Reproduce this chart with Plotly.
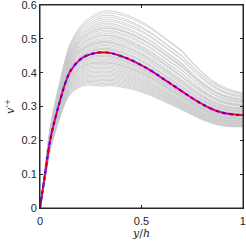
import numpy as np
import plotly.graph_objects as go

# wall-normal coordinate y/h
y_h = [0.0, 0.025, 0.05, 0.075, 0.1, 0.125, 0.15, 0.2, 0.25, 0.3, 0.35, 0.4,
       0.45, 0.5, 0.55, 0.6, 0.65, 0.7, 0.75, 0.8, 0.85, 0.9, 0.95, 1.0]
# mean profile v'+
v_mean = [0.0, 0.10, 0.20, 0.265, 0.32, 0.37, 0.405, 0.44, 0.455, 0.46, 0.458,
          0.449, 0.437, 0.422, 0.405, 0.385, 0.365, 0.345, 0.325, 0.307, 0.292,
          0.282, 0.277, 0.275]
# ensemble members (grey curves): value near the peak (y/h=0.3), at y/h=0.7 and at y/h=1
gray_peak = [0.580, 0.574, 0.568, 0.562, 0.556, 0.550, 0.545, 0.540, 0.535, 0.530,
             0.525, 0.520, 0.515, 0.510, 0.505, 0.500, 0.496, 0.492, 0.488, 0.484,
             0.480, 0.476, 0.472, 0.468, 0.464, 0.456, 0.452, 0.448, 0.444, 0.440,
             0.436, 0.432, 0.428, 0.424, 0.420, 0.416, 0.412, 0.408, 0.404, 0.400,
             0.396, 0.392, 0.388, 0.384, 0.380, 0.376, 0.372, 0.368, 0.364, 0.360,
             0.470, 0.490, 0.450, 0.430, 0.510, 0.530]
gray_mid = [0.465, 0.462, 0.450, 0.448, 0.440, 0.438, 0.428, 0.425, 0.418, 0.415,
            0.408, 0.406, 0.398, 0.396, 0.388, 0.386, 0.380, 0.376, 0.374, 0.368,
            0.366, 0.360, 0.357, 0.354, 0.350, 0.342, 0.340, 0.337, 0.335, 0.332,
            0.330, 0.327, 0.326, 0.322, 0.322, 0.318, 0.316, 0.314, 0.312, 0.310,
            0.308, 0.306, 0.304, 0.302, 0.300, 0.298, 0.296, 0.294, 0.292, 0.290,
            0.360, 0.372, 0.336, 0.330, 0.390, 0.420]
gray_end = [0.340, 0.335, 0.338, 0.330, 0.326, 0.330, 0.322, 0.318, 0.320, 0.314,
            0.310, 0.312, 0.306, 0.303, 0.300, 0.302, 0.296, 0.295, 0.292, 0.290,
            0.287, 0.286, 0.283, 0.280, 0.278, 0.272, 0.272, 0.268, 0.270, 0.266,
            0.264, 0.265, 0.262, 0.260, 0.262, 0.258, 0.256, 0.257, 0.254, 0.252,
            0.253, 0.250, 0.248, 0.249, 0.246, 0.245, 0.243, 0.242, 0.241, 0.240,
            0.285, 0.293, 0.270, 0.263, 0.305, 0.318]

x_ticks = [0, 0.5, 1]
y_ticks = [0, 0.1, 0.2, 0.3, 0.4, 0.5, 0.6]

fig = go.Figure()
xa = np.array(y_h)
va = np.array(v_mean)
m_peak = float(np.interp(0.3, xa, va))
m_mid = float(np.interp(0.7, xa, va))
m_end = float(np.interp(1.0, xa, va))
for p, mi, e in zip(gray_peak, gray_mid, gray_end):
    sp, sm, se = p / m_peak, mi / m_mid, e / m_end
    s_wall = 1 + (sp - 1) * 0.7
    scale = np.interp(xa, [0.0, 0.1, 0.3, 0.7, 1.0], [s_wall, s_wall, sp, sm, se])
    fig.add_trace(go.Scatter(x=y_h, y=list(va * scale), mode="lines",
                             line=dict(color="#c8c8c8", width=0.8, shape="spline"),
                             hoverinfo="skip", showlegend=False))

fig.add_trace(go.Scatter(x=y_h, y=v_mean, mode="lines",
                         line=dict(color="#0000ff", width=2.2, dash="4px,3px", shape="spline"), showlegend=False))
fig.add_trace(go.Scatter(x=y_h, y=v_mean, mode="lines",
                         line=dict(color="#ff00ff", width=2.0, dash="0px,3px,4px,0px", shape="spline"), showlegend=False))
fig.add_trace(go.Scatter(x=y_h, y=v_mean, mode="lines",
                         line=dict(color="#ff0000", width=1.0, shape="spline"), showlegend=False))
fig.add_trace(go.Scatter(x=y_h, y=v_mean, mode="lines",
                         line=dict(color="#000000", width=0.8, dash="1px,4px", shape="spline"), showlegend=False))

axis_common = dict(showline=True, linecolor="#262626", linewidth=1, mirror="allticks",
                   ticks="inside", ticklen=3, tickcolor="#262626", showgrid=False, zeroline=False,
                   automargin=False, ticklabeloverflow="allow",
                   tickfont=dict(family="Liberation Sans, Arial", size=11, color="#262626"))
fig.update_xaxes(range=[0, 1.0005], tickvals=x_ticks, ticktext=["0", "0.5", "1"], ticklabelstandoff=3,
                 title=dict(text="<i>y</i>/<i>h</i>", font=dict(family="DejaVu Serif", size=11, color="#262626"),
                            standoff=2), **axis_common)
fig.update_yaxes(range=[0, 0.6003], tickvals=y_ticks, ticktext=["0", "0.1", "0.2", "0.3", "0.4", "0.5", "0.6"],
                 title=dict(text="<i>v</i>′<sup>+</sup>", font=dict(family="DejaVu Serif", size=11, color="#262626"),
                            standoff=4), **axis_common)
fig.add_shape(type="rect", xref="paper", yref="paper", x0=0, y0=0, x1=1, y1=1,
              line=dict(color="#262626", width=1), layer="above")
fig.update_layout(width=246, height=245, margin=dict(l=40, r=3, t=5, b=37),
                  plot_bgcolor="white", paper_bgcolor="white")
fig.write_html("out.html", config={"displayModeBar": False},
               post_script="document.body.style.margin='0';document.body.style.overflow='hidden';")
